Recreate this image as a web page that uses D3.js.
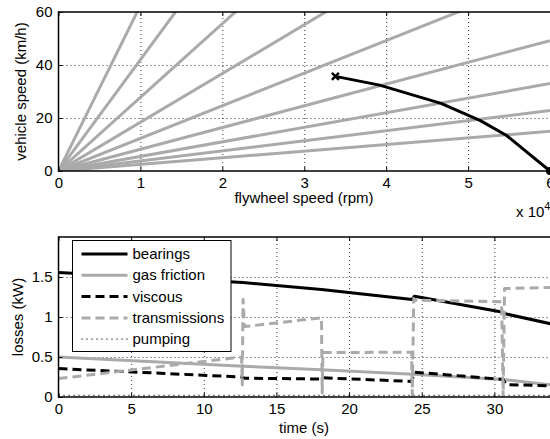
<!DOCTYPE html>
<html>
<head>
<meta charset="utf-8">
<script src="https://cdn.jsdelivr.net/npm/d3@7"></script>
<style>
  body { margin: 0; background: #fff; }
  text { font-family: "Liberation Sans", Arial, sans-serif; font-size: 15px; fill: #000; }
  .grid line { stroke: #000; stroke-dasharray: 1,3; stroke-width: 0.8; }
  .grid path { display: none; }
  .axis path { display: none; }
  .axis line { stroke: #000; }
</style>
</head>
<body>
<div id="viz"></div>
<script>
// top chart: gear lines (km/h per 1e4 rpm) and operating curve
var gearSlopes = [62.5, 42.0, 27.8, 18.4, 12.3, 8.2, 5.5, 3.8, 2.5];
var opRpm   = [3.38, 3.92, 4.67, 5.15, 5.47, 6.0];
var opSpeed = [35.7, 32.4, 25.5, 19.0, 13.4, 0];

// bottom chart: losses over time
var bearingsT = [0, 12.7, 18.1, 24.35, 24.5, 30.6, 30.75, 34];
var bearingsP = [1.555, 1.43, 1.345, 1.22, 1.26, 1.06, 1.04, 0.91];
var gasT = [0, 12.7, 18.1, 24.4, 30.6, 34];
var gasP = [0.50, 0.385, 0.34, 0.285, 0.22, 0.15];
var viscousT = [0, 12.6, 12.8, 18.1, 18.2, 24.3, 24.5, 30.6, 30.8, 34];
var viscousP = [0.355, 0.25, 0.235, 0.225, 0.24, 0.195, 0.31, 0.22, 0.155, 0.14];
var transT = [0, 12.6, 12.65, 12.7, 12.8, 18.1, 18.15, 18.2, 24.3, 24.35, 24.45, 24.6, 30.5, 30.6, 30.7, 34];
var transP = [0.23, 0.50, 0.15, 1.22, 0.88, 0.99, 0.05, 0.555, 0.56, 0.02, 1.23, 1.21, 1.19, 0.0, 1.355, 1.37];
var pumpT = [0, 34];
var pumpP = [0.02, 0.02];

var topTicksX = [0, 1, 2, 3, 4, 5, 6],
    topTicksY = [0, 20, 40, 60],
    botTicksX = [0, 5, 10, 15, 20, 25, 30],
    botTicksY = [0, 0.5, 1, 1.5];

var W = 550, H = 439,
    gray = "#aaaaaa";

var svg = d3.select("#viz").append("svg")
    .attr("width", W).attr("height", H);

/***************** top chart *****************/
var t = { left: 58.5, right: 550, top: 12, bottom: 171 };
var x1 = d3.scaleLinear().domain([0, 6]).range([t.left, t.right]);
var y1 = d3.scaleLinear().domain([0, 60]).range([t.bottom, t.top]);

svg.append("clipPath").attr("id", "clipTop")
  .append("rect").attr("x", t.left).attr("y", t.top)
  .attr("width", t.right - t.left).attr("height", t.bottom - t.top);

svg.append("g").attr("class", "grid")
    .attr("transform", "translate(0," + t.bottom + ")")
    .call(d3.axisBottom(x1).tickValues([1, 2, 3, 4, 5]).tickSize(-(t.bottom - t.top)).tickFormat(""));
svg.append("g").attr("class", "grid")
    .attr("transform", "translate(" + t.left + ",0)")
    .call(d3.axisLeft(y1).tickValues([20, 40]).tickSize(-(t.right - t.left)).tickFormat(""));

var gTop = svg.append("g").attr("clip-path", "url(#clipTop)");
var line1 = d3.line().x(function(d) { return x1(d[0]); }).y(function(d) { return y1(d[1]); });

gTop.selectAll(".gear").data(gearSlopes).enter()
  .append("path")
    .attr("class", "gear")
    .attr("d", function(s) { return line1([[0, 0], [6, 6 * s]]); })
    .attr("fill", "none")
    .attr("stroke", gray)
    .attr("stroke-width", 3);

var opData = opRpm.map(function(r, i) { return [r, opSpeed[i]]; });
svg.append("path")
    .attr("d", line1(opData))
    .attr("fill", "none")
    .attr("stroke", "#000")
    .attr("stroke-width", 3)
    .attr("stroke-linejoin", "round");

// start marker (x) and end marker (dot)
var sx = x1(opRpm[0]), sy = y1(opSpeed[0]);
svg.append("path")
    .attr("d", "M" + (sx - 3.5) + "," + (sy - 3.5) + "L" + (sx + 3.5) + "," + (sy + 3.5) +
               "M" + (sx - 3.5) + "," + (sy + 3.5) + "L" + (sx + 3.5) + "," + (sy - 3.5))
    .attr("stroke", "#000").attr("stroke-width", 2.5);
svg.append("circle")
    .attr("cx", x1(opRpm[opRpm.length - 1]))
    .attr("cy", y1(opSpeed[opSpeed.length - 1]))
    .attr("r", 4).attr("fill", "#000");

// box + axes
svg.append("path")
    .attr("d", "M" + t.right + "," + t.top + "H" + t.left + "V" + t.bottom + "H" + t.right)
    .attr("fill", "none").attr("stroke", "#000").attr("stroke-width", 1.5);

svg.append("g").attr("class", "axis")
    .attr("transform", "translate(0," + t.bottom + ")")
    .call(d3.axisBottom(x1).tickValues(topTicksX).tickSize(-4).tickPadding(6).tickFormat(d3.format("d")))
    .selectAll("text").style("font-size", "15px").style("font-family", "Liberation Sans, Arial, sans-serif");
svg.append("g").attr("class", "axis")
    .attr("transform", "translate(0," + t.top + ")")
    .call(d3.axisTop(x1).tickValues(topTicksX).tickSize(-4).tickFormat(""));
svg.append("g").attr("class", "axis")
    .attr("transform", "translate(" + t.left + ",0)")
    .call(d3.axisLeft(y1).tickValues(topTicksY).tickSize(-4).tickPadding(6))
    .selectAll("text").style("font-size", "15px").style("font-family", "Liberation Sans, Arial, sans-serif");

svg.append("text")
    .attr("x", 304).attr("y", 203)
    .style("text-anchor", "middle")
    .text("flywheel speed (rpm)");
svg.append("text")
    .attr("transform", "translate(26," + ((t.top + t.bottom) / 2) + ") rotate(-90)")
    .style("text-anchor", "middle")
    .text("vehicle speed (km/h)");
var mult = svg.append("text").attr("x", 516).attr("y", 217);
mult.append("tspan").text("x 10");
mult.append("tspan").attr("dy", -7).style("font-size", "11px").text("4");

/***************** bottom chart *****************/
var b = { left: 58.5, right: 552.5, top: 237, bottom: 397 };
var x2 = d3.scaleLinear().domain([0, 34]).range([b.left, b.right]);
var y2 = d3.scaleLinear().domain([0, 2]).range([b.bottom, b.top]);

svg.append("clipPath").attr("id", "clipBot")
  .append("rect").attr("x", b.left).attr("y", b.top)
  .attr("width", b.right - b.left).attr("height", b.bottom - b.top);

svg.append("g").attr("class", "grid")
    .attr("transform", "translate(0," + b.bottom + ")")
    .call(d3.axisBottom(x2).tickValues([5, 10, 15, 20, 25, 30]).tickSize(-(b.bottom - b.top)).tickFormat(""));
svg.append("g").attr("class", "grid")
    .attr("transform", "translate(" + b.left + ",0)")
    .call(d3.axisLeft(y2).tickValues([0.5, 1, 1.5]).tickSize(-(b.right - b.left)).tickFormat(""));

var gBot = svg.append("g").attr("clip-path", "url(#clipBot)");
var line2 = d3.line().x(function(d) { return x2(d[0]); }).y(function(d) { return y2(d[1]); });
function zip(tt, pp) { return tt.map(function(v, i) { return [v, pp[i]]; }); }

var series = [
  { name: "bearings",      t: bearingsT, p: bearingsP, color: "#000", width: 3,   dash: null },
  { name: "gas friction",  t: gasT,      p: gasP,      color: gray,   width: 3,   dash: null },
  { name: "viscous",       t: viscousT,  p: viscousP,  color: "#000", width: 3,   dash: "9,5" },
  { name: "transmissions", t: transT,    p: transP,    color: gray,   width: 3,   dash: "9,5" },
  { name: "pumping",       t: pumpT,     p: pumpP,     color: "#000", width: 1.2, dash: "1,4" }
];

// draw order: pumping, gas, viscous, bearings, transmissions
[4, 1, 2, 0, 3].forEach(function(i) {
  var s = series[i];
  gBot.append("path")
      .attr("d", line2(zip(s.t, s.p)))
      .attr("fill", "none")
      .attr("stroke", s.color)
      .attr("stroke-width", s.width)
      .attr("stroke-dasharray", s.dash)
      .attr("stroke-linejoin", "round");
});

svg.append("path")
    .attr("d", "M" + b.right + "," + b.top + "H" + b.left + "V" + b.bottom + "H" + b.right)
    .attr("fill", "none").attr("stroke", "#000").attr("stroke-width", 1.5);

svg.append("g").attr("class", "axis")
    .attr("transform", "translate(0," + b.bottom + ")")
    .call(d3.axisBottom(x2).tickValues(botTicksX).tickSize(-4).tickPadding(6).tickFormat(d3.format("d")))
    .selectAll("text").style("font-size", "15px").style("font-family", "Liberation Sans, Arial, sans-serif");
svg.append("g").attr("class", "axis")
    .attr("transform", "translate(0," + b.top + ")")
    .call(d3.axisTop(x2).tickValues(botTicksX).tickSize(-4).tickFormat(""));
svg.append("g").attr("class", "axis")
    .attr("transform", "translate(" + b.left + ",0)")
    .call(d3.axisLeft(y2).tickValues(botTicksY).tickSize(-4).tickPadding(6).tickFormat(d3.format("")))
    .selectAll("text").style("font-size", "15px").style("font-family", "Liberation Sans, Arial, sans-serif");

svg.append("text")
    .attr("x", 304).attr("y", 433)
    .style("text-anchor", "middle")
    .text("time (s)");
svg.append("text")
    .attr("transform", "translate(23," + ((b.top + b.bottom) / 2) + ") rotate(-90)")
    .style("text-anchor", "middle")
    .text("losses (kW)");

// legend
var lg = svg.append("g").attr("transform", "translate(72.5,240.5)");
lg.append("rect").attr("width", 158.5).attr("height", 111)
    .attr("fill", "#fff").attr("stroke", "#000").attr("stroke-width", 1);
var rows = lg.selectAll(".row").data(series).enter()
  .append("g").attr("class", "row")
  .attr("transform", function(d, i) { return "translate(0," + (13.5 + i * 21.3) + ")"; });
rows.append("line")
    .attr("x1", 9).attr("x2", 55).attr("y1", 0).attr("y2", 0)
    .attr("stroke", function(d) { return d.color; })
    .attr("stroke-width", function(d) { return d.width; })
    .attr("stroke-dasharray", function(d) { return d.dash; });
rows.append("text")
    .attr("x", 60).attr("y", 5)
    .text(function(d) { return d.name; });
</script>
</body>
</html>
